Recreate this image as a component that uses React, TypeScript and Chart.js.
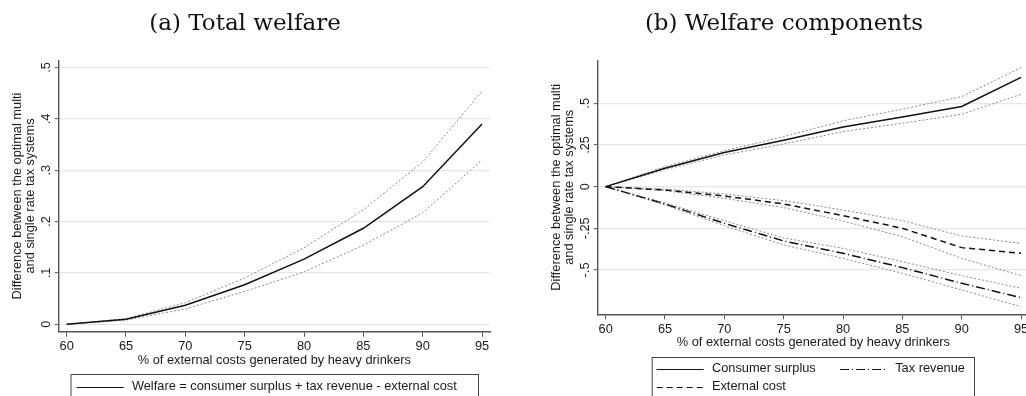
import React, { useEffect, useRef } from "react";
import { Chart, registerables } from "chart.js";

Chart.register(...registerables);

// ---------- data ----------
const xValues = [60, 65, 70, 75, 80, 85, 90, 95];
const xTicks = [60, 65, 70, 75, 80, 85, 90, 95];

// (a) Total welfare
const welfare = [0, 0.01, 0.037, 0.077, 0.127, 0.187, 0.268, 0.39];
const welfareUpper = [0, 0.011, 0.042, 0.09, 0.149, 0.223, 0.316, 0.454];
const welfareLower = [0, 0.008, 0.03, 0.064, 0.102, 0.154, 0.217, 0.32];
const leftYTicks = [0, 0.1, 0.2, 0.3, 0.4, 0.5];
const leftYLabels = ["0", ".1", ".2", ".3", ".4", ".5"];

// (b) Welfare components
const consumerSurplus = [0, 0.11, 0.205, 0.278, 0.358, 0.418, 0.481, 0.656];
const consumerSurplusUpper = [0, 0.12, 0.215, 0.3, 0.395, 0.465, 0.54, 0.714];
const consumerSurplusLower = [0, 0.102, 0.19, 0.256, 0.33, 0.38, 0.434, 0.554];
const externalCost = [0, -0.02, -0.056, -0.104, -0.174, -0.25, -0.366, -0.4];
const externalCostUpper = [0, -0.015, -0.044, -0.084, -0.14, -0.204, -0.296, -0.34];
const externalCostLower = [0, -0.025, -0.07, -0.126, -0.206, -0.3, -0.43, -0.534];
const taxRevenue = [0, -0.104, -0.22, -0.326, -0.4, -0.486, -0.58, -0.666];
const taxRevenueUpper = [0, -0.098, -0.204, -0.308, -0.37, -0.45, -0.534, -0.61];
const taxRevenueLower = [0, -0.11, -0.234, -0.35, -0.43, -0.52, -0.62, -0.72];
const rightYTicks = [-0.5, -0.25, 0, 0.25, 0.5];
const rightYLabels = ["-.5", "-.25", "0", ".25", ".5"];

const yTitleLines = ["Difference between the optimal multi", "and single rate tax systems"];
const xTitle = "% of external costs generated by heavy drinkers";

// ---------- styles ----------
const SANS = "'Liberation Sans', Arial, Helvetica, sans-serif";
const SERIF = "'DejaVu Serif', serif";
const FS = 12.8;
const TEXT = "#1a1a1a";
const AXIS = "#555555";
const GRID = "#e6e6e6";
const CI = "#8a8a8a";
const MAIN_W = 1.5;
const CANVAS_W = 500;
const CANVAS_H = 396;

function pts(ys: number[]) {
  return xValues.map((x, i) => ({ x, y: ys[i] }));
}

const rotYTicksPlugin = {
  id: "rotYTicks",
  afterDraw(chart: any, _args: any, opts: any) {
    const sc = chart.scales.y;
    const ctx = chart.ctx;
    ctx.save();
    ctx.font = `${FS}px ${SANS}`;
    ctx.fillStyle = TEXT;
    ctx.textAlign = "center";
    ctx.textBaseline = "alphabetic";
    opts.values.forEach((v: number, i: number) => {
      const py = sc.getPixelForValue(v);
      ctx.save();
      ctx.translate(opts.x, py);
      ctx.rotate(-Math.PI / 2);
      ctx.fillText(opts.labels[i], 0, 0);
      ctx.restore();
    });
    ctx.restore();
  },
};

const boxLegendPlugin = {
  id: "boxLegend",
  afterDraw(chart: any, _args: any, opts: any) {
    const ctx = chart.ctx;
    const b = opts.box;
    ctx.save();
    ctx.strokeStyle = "#444";
    ctx.lineWidth = 1;
    ctx.setLineDash([]);
    ctx.strokeRect(b.left + 0.5, b.top + 0.5, b.right - b.left, b.bottom - b.top);
    ctx.font = `${FS}px ${SANS}`;
    ctx.fillStyle = TEXT;
    ctx.textAlign = "left";
    ctx.textBaseline = "middle";
    for (const it of opts.items) {
      const ds = chart.data.datasets[it.datasetIndex];
      const ly = Math.round(it.y) + 0.5;
      ctx.save();
      ctx.strokeStyle = ds.borderColor;
      ctx.lineWidth = 1.1;
      ctx.setLineDash(ds.borderDash || []);
      ctx.beginPath();
      ctx.moveTo(it.x, ly);
      ctx.lineTo(it.x + opts.sampleWidth, ly);
      ctx.stroke();
      ctx.restore();
      ctx.fillText(ds.label, it.x + opts.sampleWidth + opts.gap, it.y);
    }
    ctx.restore();
  },
};

function makeConfig(p: any) {
  const xTitleLH = FS * 1.2;
  return {
    type: "line",
    data: { datasets: p.datasets },
    plugins: [rotYTicksPlugin, boxLegendPlugin],
    options: {
      responsive: false,
      maintainAspectRatio: false,
      animation: false,
      devicePixelRatio: 1,
      events: [],
      layout: { padding: { left: 0, right: CANVAS_W - 490, top: 0, bottom: 0 } },
      elements: {
        point: { radius: 0 },
        line: { tension: 0, fill: false },
      },
      plugins: {
        legend: { display: false },
        tooltip: { enabled: false },
        title: {
          display: true,
          text: p.title,
          color: "#111",
          font: { family: SERIF, size: 23, weight: "normal", lineHeight: 1.2 },
          padding: { top: 10, bottom: 60.3 - 10 - 23 * 1.2 },
        },
        rotYTicks: { x: 50.3, values: p.yTicks, labels: p.yLabels },
        boxLegend: { box: p.legendBox, items: p.legendItems, sampleWidth: 47, gap: 8.2 },
      },
      scales: {
        x: {
          type: "linear",
          min: 59.33,
          max: 95.67,
          afterBuildTicks: (s: any) => {
            s.ticks = xTicks.map((v) => ({ value: v }));
          },
          afterFit: (s: any) => {
            s.height = CANVAS_H - p.plotBottom;
          },
          grid: {
            drawOnChartArea: false,
            drawTicks: true,
            tickLength: 5,
            tickColor: AXIS,
            tickWidth: 1,
            color: AXIS,
          },
          border: { display: true, color: AXIS, width: 1.4 },
          ticks: {
            color: TEXT,
            font: { family: SANS, size: FS },
            padding: 2,
            maxRotation: 0,
            autoSkip: false,
            callback: (v: number) => String(v),
          },
          title: {
            display: true,
            text: xTitle,
            color: TEXT,
            font: { family: SANS, size: FS, lineHeight: 1.2 },
            padding: { top: 0, bottom: CANVAS_H - p.xTitleY - xTitleLH / 2 },
          },
        },
        y: {
          type: "linear",
          min: p.yMin,
          max: p.yMax,
          afterBuildTicks: (s: any) => {
            s.ticks = p.yTicks.map((v: number) => ({ value: v }));
          },
          afterFit: (s: any) => {
            s.width = 58.7;
          },
          grid: {
            drawOnChartArea: true,
            color: GRID,
            lineWidth: 1.3,
            drawTicks: true,
            tickLength: 4,
            tickColor: AXIS,
            tickWidth: 1,
          },
          border: { display: true, color: AXIS, width: 1.4 },
          ticks: { display: false },
          title: {
            display: true,
            text: yTitleLines,
            color: TEXT,
            font: { family: SANS, size: FS, lineHeight: 1.03 },
            padding: { top: 11.2, bottom: 0 },
          },
        },
      },
    },
  };
}

function leftConfig() {
  return makeConfig({
    title: "(a) Total welfare",
    yMin: -0.0144,
    yMax: 0.514,
    yTicks: leftYTicks,
    yLabels: leftYLabels,
    plotBottom: 331.7,
    xTitleY: 360.7,
    legendBox: { left: 70.5, top: 374, right: 478, bottom: 430 },
    legendItems: [{ datasetIndex: 0, x: 76.7, y: 386.7 }],
    datasets: [
      { label: "Welfare = consumer surplus + tax revenue - external cost", data: pts(welfare), borderColor: "#111", borderWidth: MAIN_W, order: 0 },
      { label: "Welfare upper bound", data: pts(welfareUpper), borderColor: CI, borderWidth: 1, borderDash: [2, 2], order: 1 },
      { label: "Welfare lower bound", data: pts(welfareLower), borderColor: CI, borderWidth: 1, borderDash: [2, 2], order: 1 },
    ],
  });
}

function rightConfig() {
  return makeConfig({
    title: "(b) Welfare components",
    yMin: -0.766,
    yMax: 0.758,
    yTicks: rightYTicks,
    yLabels: rightYLabels,
    plotBottom: 314.3,
    xTitleY: 342.7,
    legendBox: { left: 112.7, top: 357, right: 435, bottom: 430 },
    legendItems: [
      { datasetIndex: 0, x: 117.7, y: 368.5 },
      { datasetIndex: 2, x: 301, y: 368.5 },
      { datasetIndex: 1, x: 117.7, y: 386.7 },
    ],
    datasets: [
      { label: "Consumer surplus", data: pts(consumerSurplus), borderColor: "#111", borderWidth: MAIN_W, order: 0 },
      { label: "External cost", data: pts(externalCost), borderColor: "#111", borderWidth: MAIN_W, borderDash: [6, 4], order: 0 },
      { label: "Tax revenue", data: pts(taxRevenue), borderColor: "#111", borderWidth: MAIN_W, borderDash: [9, 3, 1, 3], order: 0 },
      { label: "Consumer surplus upper", data: pts(consumerSurplusUpper), borderColor: CI, borderWidth: 1, borderDash: [2, 2], order: 1 },
      { label: "Consumer surplus lower", data: pts(consumerSurplusLower), borderColor: CI, borderWidth: 1, borderDash: [2, 2], order: 1 },
      { label: "External cost upper", data: pts(externalCostUpper), borderColor: CI, borderWidth: 1, borderDash: [2, 2], order: 1 },
      { label: "External cost lower", data: pts(externalCostLower), borderColor: CI, borderWidth: 1, borderDash: [2, 2], order: 1 },
      { label: "Tax revenue upper", data: pts(taxRevenueUpper), borderColor: CI, borderWidth: 1, borderDash: [2, 2], order: 1 },
      { label: "Tax revenue lower", data: pts(taxRevenueLower), borderColor: CI, borderWidth: 1, borderDash: [2, 2], order: 1 },
    ],
  });
}

function ChartPanel({ makeCfg, left }: { makeCfg: () => any; left: number }) {
  const ref = useRef<HTMLCanvasElement | null>(null);
  useEffect(() => {
    if (!ref.current) return;
    const chart = new Chart(ref.current, makeCfg());
    return () => chart.destroy();
  }, []);
  return (
    <canvas
      ref={ref}
      width={CANVAS_W}
      height={CANVAS_H}
      style={{ position: "absolute", left, top: 0, width: CANVAS_W, height: CANVAS_H, display: "block" }}
    />
  );
}

export default function App() {
  return (
    <div
      style={{
        position: "fixed",
        left: 0,
        top: 0,
        width: 1026,
        height: 396,
        overflow: "hidden",
        background: "#ffffff",
      }}
    >
      <ChartPanel makeCfg={leftConfig} left={0} />
      <ChartPanel makeCfg={rightConfig} left={539} />
    </div>
  );
}
